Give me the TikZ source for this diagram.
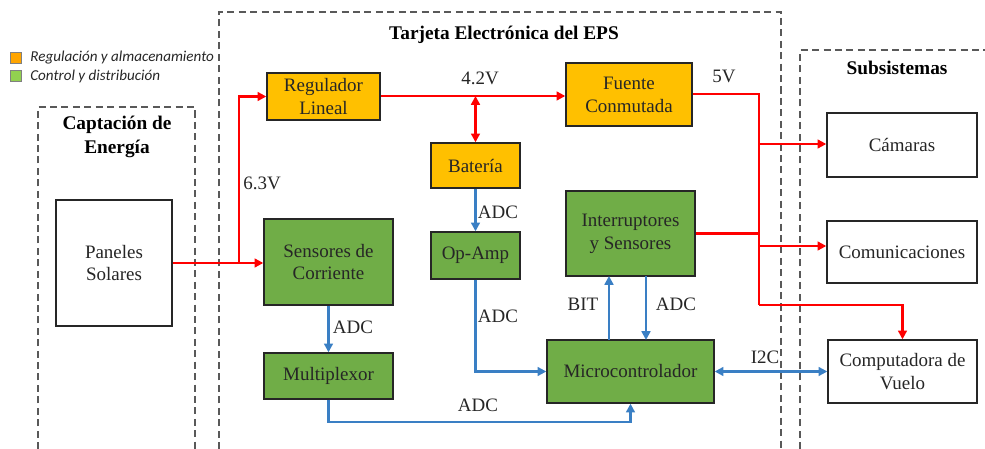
\documentclass[tikz,border=0pt]{standalone}
\usepackage{fontspec}
\setmainfont{Liberation Serif}
\newfontfamily\legfont{Carlito}
\usetikzlibrary{arrows.meta}
\definecolor{boxorange}{HTML}{FFC000}
\definecolor{boxgreen}{HTML}{70AD47}
\definecolor{legorange}{HTML}{FFA500}
\definecolor{leggreen}{HTML}{92D050}
\definecolor{wirered}{HTML}{FF0000}
\definecolor{wireblue}{HTML}{3A7FC4}
\definecolor{txt}{HTML}{262626}
\definecolor{dashgray}{HTML}{595959}
\tikzset{
  base/.style={draw=txt, line width=0.8pt, align=center, text=txt, inner sep=1pt,
    font=\fontspec{Liberation Serif}\fontsize{10.8}{13}\selectfont},
  obox/.style={base, fill=boxorange},
  gbox/.style={base, fill=boxgreen},
  wbox/.style={base, fill=white},
  redw/.style={draw=wirered, line width=1.3pt},
  bluew/.style={draw=wireblue, line width=1.3pt},
  tip/.style={-{Triangle[length=5pt,width=5pt]}},
  dtip/.style={{Triangle[length=5pt,width=5pt]}-{Triangle[length=5pt,width=5pt]}},
  lbl/.style={text=txt, font=\fontspec{Liberation Serif}\fontsize{10.8}{13}\selectfont, inner sep=0pt},
  ttl/.style={text=black, font=\bfseries\fontsize{11}{14}\selectfont, align=center, inner sep=0pt},
  frame/.style={draw=dashgray, line width=0.6pt, dash pattern=on 4pt off 2.5pt},
  legsq/.style={draw=gray, line width=0.4pt, minimum size=0.22cm, inner sep=0pt},
  legtxt/.style={anchor=west, inner sep=0pt, text=txt, font=\legfont\itshape\fontsize{8.6}{10}\selectfont}
}
\begin{document}
\begin{tikzpicture}[x=0.02cm, y=-0.02cm]
\useasboundingbox (0,0) rectangle (985,449);
% frames
\draw[frame] (38,449) -- (38,107) -- (195,107) -- (195,449);
\draw[frame] (219,449) -- (219,12) -- (781,12) -- (781,449);
\draw[frame] (800,449) -- (800,50) -- (985,50);
% titles
\node[ttl] (t1) at (504,35) {Tarjeta Electrónica del EPS};
\node[ttl] (t2) at (117,137) {Captación de\\Energía};
\node[ttl] (t3) at (897,68) {Subsistemas};
% legend
\node[legsq, fill=legorange] (lo) at (16,58) {};
\node[legsq, fill=leggreen] (lg) at (16,76) {};
\node[legtxt] (lot) at (30,58) {Regulación y almacenamiento};
\node[legtxt] (lgt) at (30,76) {Control y distribución};
% nodes
\node[wbox, minimum width=2.32cm, minimum height=2.52cm] (pan) at (114,263) {Paneles\\Solares};
\node[obox, minimum width=2.26cm, minimum height=0.94cm] (reg) at (323.5,96.5) {Regulador\\Lineal};
\node[obox, minimum width=2.52cm, minimum height=1.26cm] (fue) at (629,94.5) {Fuente\\Conmutada};
\node[obox, minimum width=1.78cm, minimum height=0.9cm] (bat) at (475.5,165.5) {Batería};
\node[gbox, minimum width=1.78cm, minimum height=0.94cm] (op) at (475.5,255.5) {Op-Amp};
\node[gbox, minimum width=2.58cm, minimum height=1.72cm] (sen) at (328.5,262) {Sensores de\\Corriente};
\node[gbox, minimum width=2.58cm, minimum height=0.92cm] (mux) at (328.5,376) {Multiplexor};
\node[gbox, minimum width=2.58cm, minimum height=1.7cm] (int) at (630.5,233.5) {Interruptores\\y Sensores};
\node[gbox, minimum width=3.34cm, minimum height=1.26cm] (mic) at (630.5,371.5) {Microcontrolador};
\node[wbox, minimum width=3.0cm, minimum height=1.28cm] (cam) at (902,145) {Cámaras};
\node[wbox, minimum width=3.0cm, minimum height=1.24cm] (com) at (902,252) {Comunicaciones};
\node[wbox, minimum width=2.98cm, minimum height=1.26cm] (cpu) at (902.5,371.5) {Computadora de\\Vuelo};
% junction coordinates
\coordinate (j1) at (239,263);
\coordinate (j2) at (475.5,96);
\coordinate (j3) at (759,94);
\coordinate (j4) at (759,305);
\coordinate (j5) at (759,144);
\coordinate (j6) at (759,246);
\coordinate (j7) at (759,233.5);
\coordinate (b1) at (500,422);
\coordinate (m1) at (609,340);
\coordinate (i1) at (609,276);
\coordinate (m2) at (646,340);
\coordinate (i2) at (646,276);
% red power wires
\draw[redw, tip] (pan.east |- j1) -- (sen.west |- j1);
\draw[redw, tip] (j1) |- (reg.west);
\draw[redw, tip] (reg.east |- j2) -- (fue.west |- j2);
\draw[redw, dtip] (j2) -- (bat.north);
\draw[redw] (fue.east |- j3) -- (j3) -- (j4);
\draw[redw, tip] (j4) -| (cpu.north);
\draw[redw, tip] (j5) -- (cam.west |- j5);
\draw[redw, tip] (j6) -- (com.west |- j6);
\draw[redw] (int.east |- j7) -- (j7);
% blue signal wires
\draw[bluew, tip] (bat.south) -- (op.north);
\draw[bluew, tip] (op.south) |- (mic.west);
\draw[bluew, tip] (sen.south) -- (mux.north);
\draw[bluew, tip] (mux.south) |- (b1) -| (mic.south);
\draw[bluew, tip] (m1) -- (i1);
\draw[bluew, tip] (i2) -- (m2);
\draw[bluew, dtip] (mic.east) -- (cpu.west);
% labels
\node[lbl] (l1) at (262,183) {6.3V};
\node[lbl] (l2) at (480,78) {4.2V};
\node[lbl] (l3) at (724,76) {5V};
\node[lbl] (l4) at (498,212) {ADC};
\node[lbl] (l5) at (498,316) {ADC};
\node[lbl] (l6) at (353,327) {ADC};
\node[lbl] (l7) at (478,405) {ADC};
\node[lbl] (l8) at (583,304) {BIT};
\node[lbl] (l9) at (676,304) {ADC};
\node[lbl] (l10) at (765,357) {I2C};
\end{tikzpicture}
\end{document}
